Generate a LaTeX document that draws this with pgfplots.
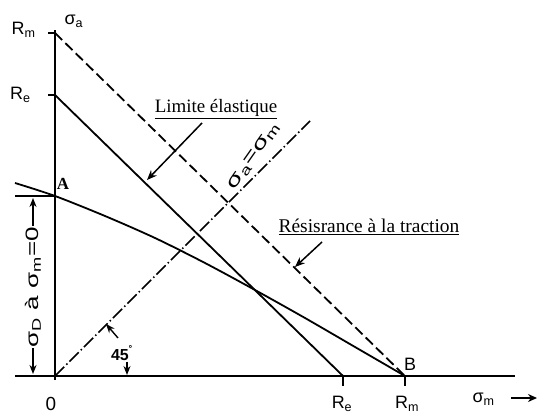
\documentclass[border=0pt]{standalone}
\usepackage{pgfplots}
\pgfplotsset{compat=1.18}
\usepackage{fontspec}
\setmainfont{Liberation Serif}
\newfontfamily\sansf{Liberation Sans}
\usetikzlibrary{arrows.meta}

\newcommand{\sub}[1]{\textsubscript{#1}}

% Haigh diagram: alternating stress vs. mean stress
\begin{document}
\begin{tikzpicture}
\begin{axis}[
  scale only axis, width=538bp, height=416bp,
  xmin=-55, xmax=483, ymin=-40, ymax=376,
  hide axis, clip=false]

% axes
\addplot[black, line width=2.1bp] coordinates {(0,-4) (0,346)};
\addplot[black, line width=2.1bp] coordinates {(-40,0) (460,0)};
% ticks for Rm and Re
\addplot[black, line width=1.7bp] coordinates {(-7,343) (0,343)};
\addplot[black, line width=1.7bp] coordinates {(-7,281) (0,281)};
\addplot[black, line width=1.7bp] coordinates {(288,0) (288,-10)};
\addplot[black, line width=1.7bp] coordinates {(350,0) (350,-10)};
% level of the endurance limit
\addplot[black, line width=1.7bp] coordinates {(-40,180) (0,180)};

% tensile strength line (dashed)
\addplot[black, line width=1.8bp, dash pattern=on 10bp off 4.5bp] coordinates {(0,343) (350,0)};
% yield line
\addplot[black, line width=1.8bp] coordinates {(0,281) (288,0)};
% fatigue limit curve A-B
\addplot[black, line width=1.8bp, smooth] coordinates {
  (-40,193) (0,180) (50,160) (100,138) (150,113) (200,86) (250,58) (300,29) (350,0)};
% sigma_a = sigma_m
\addplot[black, line width=1.6bp, dash pattern=on 13bp off 3bp on 1.5bp off 3bp] coordinates {(0,0) (255,255)};

% annotations
\draw[{Stealth[length=9bp,width=7bp]}-{Stealth[length=9bp,width=7bp]}, line width=1.5bp]
  (axis cs:-22,2) -- (axis cs:-22,178);
\node[fill=white, inner sep=1bp, rotate=90, font=\sansf\fontsize{18}{20}\selectfont]
  at (axis cs:-22,89) {\scalebox{1.45}[1]{σ\sub{D} à σ\sub{m}=0}};

\node[rotate=55, font=\sansf\fontsize{19}{21}\selectfont]
  at (axis cs:199,220) {\scalebox{1.45}[1]{σ\sub{a}=σ\sub{m}}};

\node[anchor=base, font=\fontsize{19}{21}\selectfont] at (axis cs:161,263) {\underline{Limite élastique}};
\draw[-{Stealth[length=10bp,width=8bp]}, line width=1.5bp] (axis cs:147,253) -- (axis cs:92,196);

\node[anchor=base, font=\fontsize{19.5}{21}\selectfont] at (axis cs:314,143) {\underline{Résisrance à la traction}};
\draw[-{Stealth[length=10bp,width=8bp]}, line width=1.5bp] (axis cs:267,134) -- (axis cs:240,109);

\node[font=\sansf\bfseries\fontsize{16}{18}\selectfont] at (axis cs:67,23) {45\textsuperscript{˚}};
\draw[-{Stealth[length=9bp,width=7bp]}, line width=1.4bp] (axis cs:63,38) -- (axis cs:51,52);
\draw[-{Stealth[length=9bp,width=7bp]}, line width=1.4bp] (axis cs:72,14) -- (axis cs:72,1);

\node[font=\bfseries\fontsize{17}{19}\selectfont] at (axis cs:8,192) {A};
\node[font=\sansf\fontsize{18}{20}\selectfont] at (axis cs:355,12) {B};

% axis labels
\node[anchor=base east, font=\sansf\fontsize{18}{20}\selectfont] at (axis cs:-16,341) {R\sub{m}};
\node[anchor=base east, font=\sansf\fontsize{18}{20}\selectfont] at (axis cs:-21,276) {R\sub{e}};
\node[anchor=base west, font=\sansf\fontsize{18}{20}\selectfont] at (axis cs:6,351) {σ\sub{a}};
\node[anchor=base, font=\sansf\fontsize{19}{21}\selectfont] at (axis cs:-4,-35) {0};
\node[anchor=base, font=\sansf\fontsize{18}{20}\selectfont] at (axis cs:287,-33) {R\sub{e}};
\node[anchor=base, font=\sansf\fontsize{18}{20}\selectfont] at (axis cs:352,-33) {R\sub{m}};
\node[anchor=base west, font=\sansf\fontsize{18}{20}\selectfont] at (axis cs:414,-27) {σ\sub{m}};
\draw[-{Stealth[length=9bp,width=8bp]}, line width=2.2bp] (axis cs:456,-22) -- (axis cs:482,-22);

\end{axis}
\pgfresetboundingbox
\useasboundingbox (current axis.south west) rectangle (current axis.north east);
\end{tikzpicture}
\end{document}
